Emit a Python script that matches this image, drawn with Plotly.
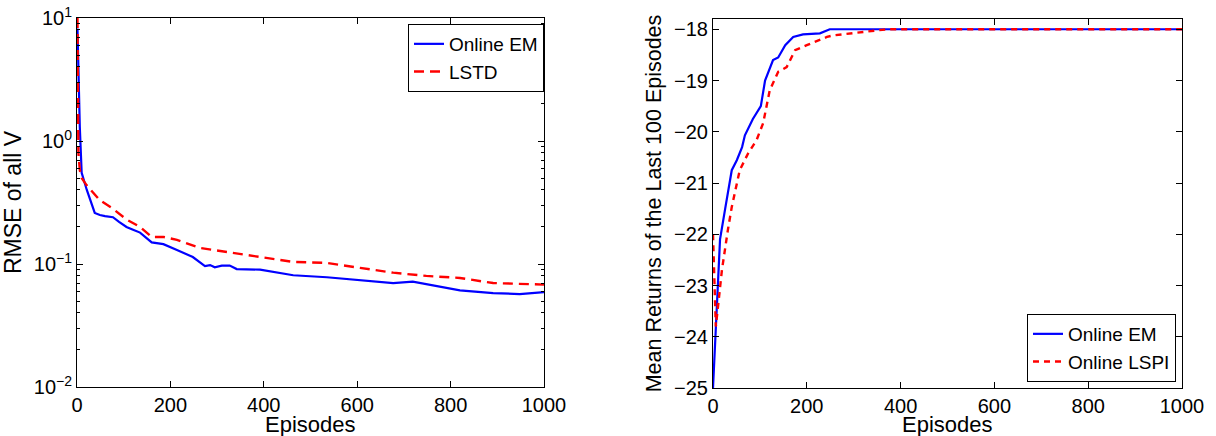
import plotly.graph_objects as go

# Left panel: RMSE of all V (log scale)
em_rmse_ep = [1, 3, 6, 10, 21, 38, 49, 60, 77, 90, 106, 120, 135, 160, 185, 214, 248, 274, 285, 295, 310, 327, 342, 392, 463, 535, 606, 677, 719, 784, 820, 891, 948, 1000]
em_rmse = [8.2, 4.0, 1.3, 0.55, 0.40, 0.26, 0.25, 0.245, 0.24, 0.22, 0.20, 0.19, 0.18, 0.15, 0.145, 0.13, 0.114, 0.096, 0.098, 0.094, 0.097, 0.097, 0.091, 0.090, 0.081, 0.078, 0.074, 0.070, 0.072, 0.065, 0.061, 0.058, 0.057, 0.059]
lstd_ep = [1, 2, 3, 6, 10, 20, 49, 75, 106, 135, 160, 185, 214, 263, 320, 392, 463, 535, 606, 677, 748, 820, 891, 990, 1000]
lstd_rmse = [10.0, 4.0, 0.8, 0.58, 0.50, 0.44, 0.33, 0.285, 0.23, 0.20, 0.166, 0.166, 0.157, 0.135, 0.126, 0.114, 0.104, 0.102, 0.093, 0.085, 0.080, 0.077, 0.070, 0.068, 0.068]

# Right panel: mean returns of the last 100 episodes
em_ret_ep = [0, 2, 4, 8, 15, 26, 32, 40, 51, 62, 68, 85, 102, 111, 128, 139, 154, 171, 192, 228, 249, 1000]
em_ret = [-25, -24.6, -24.1, -23.3, -22.1, -21.5, -21.2, -20.75, -20.55, -20.3, -20.07, -19.75, -19.5, -19.0, -18.6, -18.55, -18.31, -18.15, -18.1, -18.08, -18.0, -18.0]
lspi_ep = [0, 3, 6, 12, 19, 32, 40, 57, 75, 93, 107, 121, 139, 157, 175, 200, 243, 256, 299, 328, 371, 1000]
lspi_ret = [-22.0, -23.0, -23.8, -23.3, -22.7, -21.9, -21.47, -20.75, -20.42, -20.16, -19.83, -19.19, -18.83, -18.74, -18.41, -18.31, -18.15, -18.12, -18.08, -18.04, -18.0, -18.0]

x_ticks = [0, 200, 400, 600, 800, 1000]
log_tickvals = [0.01, 0.1, 1, 10]
log_ticktext = ["10<sup>\u22122</sup>", "10<sup>\u22121</sup>", "10<sup>0</sup>", "10<sup>1</sup>"]
log_minor_vals = [m * d for d in (0.01, 0.1, 1) for m in range(2, 10)]
ret_ticks = [-25, -24, -23, -22, -21, -20, -19, -18]
ret_ticktext = ["\u221225", "\u221224", "\u221223", "\u221222", "\u221221", "\u221220", "\u221219", "\u221218"]
x_title = "Episodes"

FONT = "Liberation Sans, Arial, sans-serif"
BLUE = "#0000ff"
RED = "#ff0000"

fig = go.Figure()
fig.add_trace(go.Scatter(x=em_rmse_ep, y=em_rmse, mode="lines", name="Online EM",
                         line=dict(color=BLUE, width=2.2), xaxis="x", yaxis="y", legend="legend"))
fig.add_trace(go.Scatter(x=lstd_ep, y=lstd_rmse, mode="lines", name="LSTD",
                         line=dict(color=RED, width=2.4, dash="10px,6px"), xaxis="x", yaxis="y", legend="legend"))
fig.add_trace(go.Scatter(x=em_ret_ep, y=em_ret, mode="lines", name="Online EM",
                         line=dict(color=BLUE, width=2.2), xaxis="x2", yaxis="y2", legend="legend2"))
fig.add_trace(go.Scatter(x=lspi_ep, y=lspi_ret, mode="lines", name="Online LSPI",
                         line=dict(color=RED, width=2.4, dash="6px,5px"), xaxis="x2", yaxis="y2", legend="legend2"))

W, H = 1216, 436
def px_x(p):
    return p / W
def px_y(p):
    return 1 - p / H

axis_common = dict(showline=True, linecolor="black", linewidth=1, mirror="allticks",
                   ticks="inside", ticklen=6, tickcolor="black", showgrid=False, zeroline=False,
                   automargin=False, tickfont=dict(family=FONT, size=20, color="black"))
xtitle_font = dict(family=FONT, size=22, color="black")
ytitle_font = dict(family=FONT, size=23, color="black")
y2title_font = dict(family=FONT, size=21.5, color="black")

fig.update_layout(
    width=W, height=H, margin=dict(l=0, r=0, t=0, b=0),
    paper_bgcolor="white", plot_bgcolor="white",
    font=dict(family=FONT, color="black"),
    xaxis=dict(domain=[px_x(77), px_x(544)], range=[0, 1000], tickvals=x_ticks,
               anchor="y", **axis_common),
    yaxis=dict(domain=[px_y(387), px_y(18)], type="log", range=[-2, 1], tickvals=log_tickvals,
               ticktext=log_ticktext, title=dict(text="RMSE of all V", font=ytitle_font, standoff=8),
               anchor="x",
               minor=dict(ticks="inside", ticklen=3, tickcolor="black", tickmode="array",
                          tickvals=log_minor_vals, showgrid=False),
               **axis_common),
    xaxis2=dict(domain=[px_x(713), px_x(1182)], range=[0, 1000], tickvals=x_ticks,
                anchor="y2", **axis_common),
    yaxis2=dict(domain=[px_y(388), px_y(19)], range=[-25, -17.8], tickvals=ret_ticks, ticktext=ret_ticktext,
                title=dict(text="Mean Returns of the Last 100 Episodes", font=y2title_font, standoff=6),
                anchor="x2", **axis_common),
    legend=dict(x=px_x(544), y=px_y(24), xanchor="right", yanchor="top",
                bgcolor="white", bordercolor="black", borderwidth=1,
                font=dict(family=FONT, size=19, color="black"), tracegroupgap=0),
    legend2=dict(x=px_x(1176), y=px_y(382), xanchor="right", yanchor="bottom",
                 bgcolor="white", bordercolor="black", borderwidth=1,
                 font=dict(family=FONT, size=19, color="black"), tracegroupgap=0),
    showlegend=True,
)

for xref in ("x domain", "x2 domain"):
    fig.add_annotation(text=x_title, xref=xref, yref="paper", x=0.5, y=0,
                       xanchor="center", yanchor="bottom", yshift=-3, showarrow=False,
                       font=xtitle_font)

fig.write_html("out.html")
